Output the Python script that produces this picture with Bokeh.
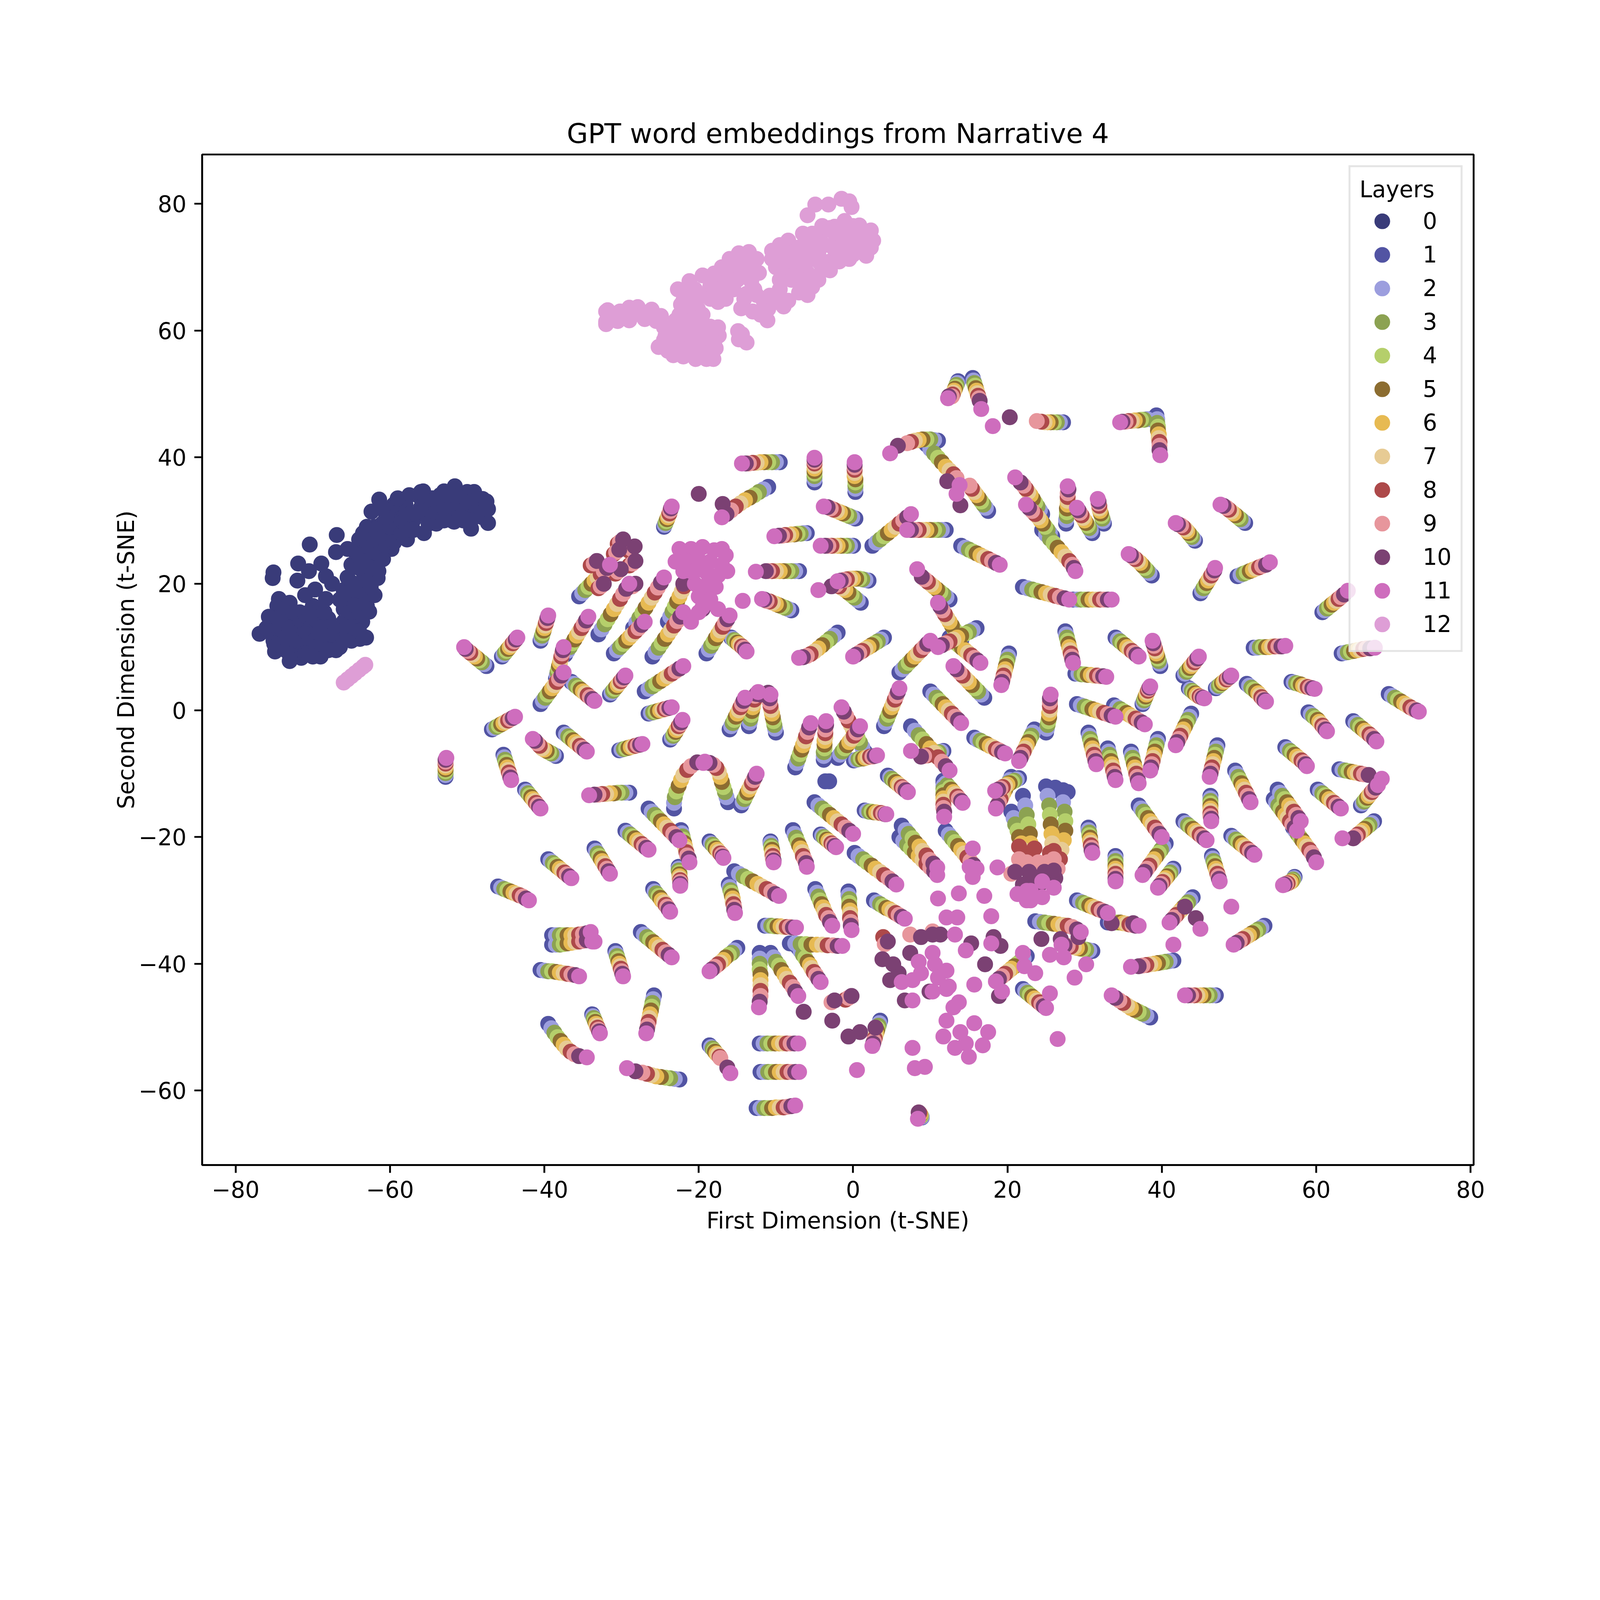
from bokeh.plotting import figure
from bokeh.models import Range1d, FixedTicker
from bokeh.embed import file_html
from bokeh.resources import INLINE

FONT = "DejaVu Sans"

layer_colors = ["#393b79", "#5254a3", "#9c9ede", "#8ca252", "#b5cf6b", "#8c6d31", "#e7ba52",
                "#e7cb94", "#ad494a", "#e7969c", "#7b4173", "#ce6dbd", "#de9ed6"]
layer_labels = [str(i) for i in range(13)]
x_ticks = [-80, -60, -40, -20, 0, 20, 40, 60, 80]
y_ticks = [-60, -40, -20, 0, 20, 40, 60, 80]

# layer 0: the dark cluster on the left
layer0_points = """
-76.9,12.1 -75.1,21.8 -75.2,20.9 -74.4,17.6 -74.6,16.5 -75.7,14.8 -71.9,23.2 -70.4,26.2 -68.9,23.2
-68.3,21.2 -66.9,27.7 -61.4,33.3 -62.4,31.4 -55.7,34.6 -53,34.6 -51.6,35.4 -49.1,34.5 -48,33.4
-47.3,31.8 -47.3,29.6 -49.5,28.7 -51.7,29.8 -55.6,28 -57.8,27 -59.8,25.5 -60.9,23.9 -61.6,20.9
-62,18.2 -62.7,15.6 -63.6,14 -63.1,11.5 -63.9,11.3 -66.5,10.7 -68.9,8.9 -71.5,8.3 -73,7.8 -74.9,9.3
-75.1,11 -71,18.2 -69.7,19.1 -68.3,17.6 -71.7,15.5 -73.9,15 -65.6,12.1
-74,12 -73,11 -72,12.5 -71,10.5 -70,12 -69,11 -68,12.5 -67,11 -73.5,13.5 -72.5,10 -71.5,13.5
-70.5,9.5 -69.5,13 -68.5,10 -67.5,13.5 -66.5,12.5 -72,14.5 -70,14.5 -68,14.5 -66,14 -74,10
-69,8.5 -67,9.5 -65,11 -64.5,13
-66,16 -65,17 -66,19 -64.5,18.5 -65.5,21 -64,20 -63.5,22 -65,23 -64,24.5 -62.5,24 -63,26
-61.5,26 -62,27.5 -60.5,28 -64.5,15 -63,16.5 -66.5,17.5 -65.5,25.5 -64,27 -63,29 -61,29.5
-60,27 -59,29.5
-59,31 -58,32.5 -57,30 -56,32 -55,30.5 -54,32.5 -53,31 -52,33 -51,31.5 -50,33 -49,31 -48.5,32.5
-56,33.5 -54,29.5 -52,30 -50.5,30 -58,29 -60,31.5 -57.5,34 -53.5,34 -50,34.5 -48,30.5
-70.5,22 -72,20.5 -67.5,20 -69,15.5 -67,25 -73,17 -76,13 -72.5,9 -70,16.5
-75.5,12.5 -74.5,13 -73.5,12 -72.5,11.5 -71.5,11 -70.5,11.5 -69.5,12 -68.5,11.5 -67.5,12 -66.5,11.5
-75,10.5 -73.5,9.5 -71,9 -69.5,10 -68,9.5 -66.5,10 -74.5,14.5 -73,13 -71,12.5 -69,13.5 -67,13
-72.5,15.5 -70.5,15.5 -68.5,15.5 -73,8.8 -70,8.5
-65.5,13.5 -64,12.5 -65,15.5 -63.5,15 -64.5,16.5 -63,18 -65.5,18.5 -64,19 -62.5,19.5 -64.5,20
-63,21 -61.5,22 -64,22.5 -62.5,22.5 -63.5,23.5 -62,25 -64.5,25 -61,24 -62.5,26.5 -60.5,26
-61.5,27.5 -59.5,26.5 -63.5,28 -62,29 -60,29 -58.5,28
-58.5,30 -57.5,31 -56.5,31 -55.5,31.5 -54.5,31 -53.5,32 -52.5,32 -51.5,32.5 -50.5,32 -49.5,32.5
-48.5,31.5 -49.5,30 -51,30.5 -53,30 -55,29.5 -57,28.5 -59.5,32.5 -56,34.5 -54.5,33.5 -52.5,34
-51,34 -49,33.5 -47.5,33 -59,33.5 -61,32 -60.5,30.5
"""

# layer 12: the light pink cluster at the top and the small one on the left
layer12_points = """
-66,4.4 -65.5,4.9 -65,5.4 -64.5,5.9 -64,6.4 -63.5,6.9 -63.2,7.2
-32,61.4 -32,63 -31.8,63.2 -30.2,63 -29,63.6 -27.9,63.7 -26.1,63.3 -24.9,62.3 -29,61.6 -32,61
-25.2,57.4 -23.3,56.1 -22,55.9 -20.4,55.5 -19,55.5 -18.1,55.5 -17.4,59.2 -18.5,60.6 -21.1,61.2
-23,61.6 -24.3,59.2 -22.3,58.6 -20.4,58.3 -20.4,61.8 -21.1,63.6 -22,64.7 -20.1,63.4 -20.7,62.5
-23.5,58 -19,57.5 -21.5,57 -17.8,57.2 -24.5,60.5
-14.8,58.6 -14.4,59.4 -14.9,59.9 -13.8,58.1
-22.7,66.5 -22.3,64.1 -21.2,67.8 -19.5,68.7 -17.4,67.8 -16,71.3 -14.8,72.2 -13.5,72.4 -12.5,71.3
-12.2,69.1 -13.2,67.8 -13.8,65.8 -14.1,65 -12.5,65.6 -11.6,64.7 -11,63.4 -11.1,61.6 -18.5,67
-16,69.5 -15,68 -14.5,70 -17,66.5
-10.5,72.6 -10.5,71.3 -9.1,70.9 -8.4,74.2 -8.4,69.6 -8.4,64.7 -6.8,67.2 -5.3,66.9 -5.9,69.1
-5.9,65.6 -7.1,73.1 -6.5,75.3 -5.3,75.3 -5.3,71.3 -2.4,76.4 -1.1,77.3 0.8,76.6 2.3,75.8 2.6,74.2
2.3,73.1 1.1,72.4 -0.5,71.3 -1.8,70.9 -3,70.9 -4.3,70.7 -3.7,73.5 -2.1,74.7 -0.2,73.5 -3.7,75.8
-3,76.2 1.7,71.8 -7.5,70.5 -9.5,68 -7,71.5 0.5,75 -1,74.5 -4.5,74.5 -6,72.5
-5.9,78.2 -4.9,79.9 -3.2,79.9 -1.5,80.8 -0.5,80.4 -0.2,79.5
-31,62.2 -30,62 -28.5,62.5 -27.5,62.8 -26.5,62.5 -25.5,61.5 -30.5,61.5 -27,61.8
-24.5,58.5 -23.5,59.5 -22.5,60 -21.5,59.5 -20.5,60 -19.5,59.5 -18.5,59 -19.5,61 -21.5,60.5 -23,57
-21,56.5 -19.5,56.5 -18,58 -24,56.8 -22.5,62.5 -19.5,62.5 -17.5,60.5
-21.5,65.5 -20.5,66.5 -19.5,65.5 -18.5,65 -17.5,64.5 -16.5,65 -15.5,66.5 -16.5,67.5 -18,69 -17,70
-15.5,70.5 -14,71 -13,70 -13.5,69 -12.8,66.5 -14.5,63.5 -13,63 -12,62.5 -20.5,64.5
-10,70 -9.5,73.5 -9,72 -8,71 -7.5,72.5 -8,68 -7,69 -6.5,70.5 -6,68 -7,66 -4.5,68 -4,69.5 -3,69.5
-2,71.5 -1,72.5 0,72 1,73.5 1.5,75 0,76.5 -1.5,76 -2.5,75.5 -4,76.5 -5,73.5 -6,74.2 -4.5,72
-2.5,73 -1.2,75.5 -9.5,66.5 -10,64.5 -9,63.8 -10.8,65.5
"""

# word trails: the points of layers 1 to 11, in that order
trails_north = [
    "15.5,52.5 15.6,52.1 15.7,51.7 15.8,51.3 15.9,50.9 16,50.5 16.1,50.1 16.2,49.7 16.3,49.3 16.4,48.9 16.6,47.6",
    "13.6,52 13.5,51.7 13.4,51.4 13.3,51.1 13.2,50.8 13.1,50.5 13,50.2 12.9,49.9 12.8,49.6 12.4,49.6 12.3,49.3",
    "27.2,45.5 26.8,45.5 26.4,45.5 26,45.5 25.6,45.5 25.2,45.5 24.8,45.5 24.4,45.6 23.8,45.7 20.3,46.3 18.1,44.9",
    "39.3,46.6 39.4,46 39.4,45.4 39.5,44.8 39.5,44.2 39.6,43.6 39.6,43 39.7,42.4 39.7,41.8 39.7,41.1 39.8,40.3",
    "38.5,46 38.1,46 37.7,45.9 37.3,45.9 36.9,45.8 36.5,45.8 36.1,45.7 35.7,45.7 35.3,45.6 34.9,45.6 34.6,45.5",
    "11,42.6 10.5,42.7 10,42.8 9.5,42.8 9,42.8 8.5,42.7 8,42.6 7.5,42.4 7,42.2 5.8,41.8 4.8,40.6",
    "9.5,42 10,41.3 10.5,40.6 11,39.9 11.5,39.2 12,38.5 12.5,37.9 13,37.3 13.4,36.7 12.2,36.2 13.8,35.6",
    "-9.5,39.2 -10,39.2 -10.5,39.2 -11,39.2 -11.5,39.2 -12,39.2 -12.5,39.1 -13,39.1 -13.5,39 -13.9,39 -14.4,39",
    "-5,36 -5,36.5 -5,37 -5,37.4 -5,37.8 -5,38.2 -5,38.6 -5,39 -5,39.3 -5,39.6 -5,39.9",
    "0.3,34.5 0.3,35 0.3,35.5 0.3,36 0.3,36.5 0.2,37 0.2,37.5 0.2,38 0.2,38.4 0.2,38.8 0.2,39.2",
    "-11,35.3 -11.6,34.9 -12.2,34.5 -12.8,34 -13.4,33.6 -14,33.2 -14.6,32.7 -15.2,32.2 -15.8,31.6 -16.4,31 -17,30.5",
    "-24.5,29 -24.4,29.3 -24.3,29.6 -24.2,29.9 -24.1,30.2 -24,30.5 -23.9,30.8 -23.8,31.1 -23.7,31.5 -23.6,31.9 -23.5,32.2",
    "0.3,30.3 -0.1,30.5 -0.5,30.7 -0.9,30.9 -1.3,31.1 -1.7,31.3 -2.1,31.5 -2.5,31.7 -2.9,31.9 -3.3,32.1 -3.8,32.2",
    "17.5,31.5 17.2,32 16.9,32.5 16.6,33 16.3,33.5 16,34 15.7,34.5 15.4,35 15.1,35.5 13.9,32.4 13.4,34.2",
    "24.5,31 24.2,31.6 23.9,32.2 23.6,32.8 23.3,33.4 23,34 22.7,34.5 22.4,35 22.1,35.5 21.7,36 21,36.8",
    "25.8,27.5 25.5,28 25.2,28.5 24.9,29 24.6,29.5 24.3,30 24,30.5 23.6,31 23.2,31.5 22.8,32 22.4,32.5",
    "27.6,29.5 27.6,30.1 27.7,30.7 27.7,31.3 27.7,31.9 27.8,32.5 27.8,33.1 27.8,33.7 27.8,34.3 27.9,34.9 27.8,35.4",
    "32.5,29.5 32.4,29.9 32.3,30.3 32.2,30.7 32.1,31.1 32,31.5 31.9,31.9 31.9,32.3 31.8,32.7 31.8,33 31.7,33.4",
    "31,28 30.8,28.4 30.6,28.8 30.4,29.2 30.2,29.6 30,30 29.8,30.4 29.6,30.8 29.4,31.2 29.2,31.6 29,32",
    "24.5,28.5 25,27.8 25.5,27.1 26,26.4 26.5,25.7 27,25 27.5,24.3 28,23.6 28.4,23 28.6,22.5 28.8,22",
    "50.8,29.6 50.5,29.9 50.2,30.2 49.9,30.5 49.6,30.8 49.3,31.1 49,31.4 48.7,31.7 48.4,32 48,32.3 47.6,32.5",
    "44.3,26.8 44.1,27.1 43.9,27.4 43.7,27.7 43.5,28 43.3,28.3 43.1,28.6 42.8,28.9 42.5,29.2 42.1,29.4 41.8,29.6",
    "38.7,21.3 38.4,21.7 38.1,22.1 37.8,22.5 37.5,22.9 37.2,23.3 36.9,23.6 36.6,23.9 36.3,24.2 36,24.5 35.7,24.7",
    "45,18.5 45.2,18.9 45.4,19.3 45.6,19.7 45.8,20.1 46,20.5 46.2,20.9 46.4,21.3 46.6,21.7 46.8,22.1 46.9,22.5",
    "49.8,21.2 50.2,21.4 50.6,21.6 51,21.8 51.4,22 51.8,22.2 52.2,22.4 52.6,22.6 53,22.8 53.5,23 54,23.4",
    "60.8,15.5 61.1,15.8 61.4,16.1 61.7,16.4 62,16.7 62.3,17 62.6,17.3 62.9,17.6 63.2,17.9 63.6,18.3 64.1,18.9",
    "-6,28 -6.4,28 -6.8,27.9 -7.2,27.9 -7.6,27.8 -8,27.8 -8.4,27.7 -8.8,27.7 -9.2,27.6 -9.6,27.6 -10.2,27.5",
    "0,26 -0.4,26 -0.8,26 -1.2,26 -1.6,26 -2,26 -2.4,26 -2.8,26 -3.2,26 -3.6,26 -4.2,26",
    "12,28.5 11.5,28.5 11,28.5 10.5,28.5 10,28.5 9.5,28.5 9,28.5 8.5,28.5 8,28.5 7.5,28.5 7,28.5",
    "2.5,26 3,26.5 3.5,27 4,27.5 4.5,28 5,28.5 5.5,29 6,29.5 6.5,30 7,30.5 7.5,31",
    "14,26 14.5,25.7 15,25.4 15.5,25.1 16,24.8 16.5,24.5 17,24.2 17.5,23.9 18,23.6 18.5,23.3 19,23",
    "22,19.5 22.6,19.3 23.2,19.1 23.8,18.9 24.4,18.7 25,18.5 25.6,18.3 26.2,18.1 26.8,17.9 27.4,17.7 28,17.5",
    "28.5,17.5 29,17.5 29.5,17.5 30,17.5 30.5,17.5 31,17.5 31.5,17.5 32,17.5 32.5,17.5 33,17.5 33.5,17.5",
]

trails_west = [
    "-47.5,7 -47.8,7.3 -48.1,7.6 -48.4,7.9 -48.7,8.2 -49,8.5 -49.3,8.8 -49.6,9.1 -49.9,9.4 -50.2,9.7 -50.4,10",
    "-45.5,8.5 -45.3,8.8 -45.1,9.1 -44.9,9.4 -44.7,9.7 -44.5,10 -44.3,10.3 -44.1,10.6 -43.9,10.9 -43.7,11.2 -43.5,11.5",
    "-46.8,-3 -46.5,-2.8 -46.2,-2.6 -45.9,-2.4 -45.6,-2.2 -45.3,-2 -45,-1.8 -44.7,-1.6 -44.4,-1.4 -44.1,-1.2 -43.8,-1",
    "-40.5,11 -40.4,11.4 -40.3,11.8 -40.2,12.2 -40.1,12.6 -40,13 -39.9,13.4 -39.8,13.8 -39.7,14.2 -39.6,14.6 -39.5,15",
    "-40.5,1 -40.2,1.5 -39.9,2 -39.6,2.5 -39.3,3 -39,3.5 -38.7,4 -38.4,4.5 -38.1,5 -37.8,5.5 -37.5,6",
    "-37.3,8.8 -37,9.4 -36.7,10 -36.4,10.6 -36.1,11.2 -35.8,11.8 -35.5,12.4 -35.2,13 -34.9,13.6 -34.6,14.2 -34.3,14.8",
    "-36.5,4.5 -36.2,4.2 -35.9,3.9 -35.6,3.6 -35.3,3.3 -35,3 -34.7,2.7 -34.4,2.4 -34.1,2.1 -33.8,1.8 -33.5,1.5",
    "-37.5,-3.5 -37.2,-3.8 -36.9,-4.1 -36.6,-4.4 -36.3,-4.7 -36,-5 -35.7,-5.3 -35.4,-5.6 -35.1,-5.9 -34.8,-6.2 -34.5,-6.5",
    "-38.5,-7.2 -38.8,-7 -39.1,-6.8 -39.4,-6.6 -39.7,-6.4 -40,-6.2 -40.3,-6 -40.6,-5.6 -40.9,-5.2 -41.2,-4.8 -41.5,-4.5",
    "-52.8,-10.5 -52.8,-10.2 -52.8,-9.9 -52.8,-9.6 -52.8,-9.3 -52.8,-9 -52.8,-8.7 -52.8,-8.4 -52.8,-8.1 -52.8,-7.8 -52.7,-7.5",
    "-45.3,-7 -45.2,-7.4 -45.1,-7.8 -45,-8.2 -44.9,-8.6 -44.8,-9 -44.7,-9.4 -44.6,-9.8 -44.5,-10.2 -44.4,-10.6 -44.3,-11",
    "-42.5,-12.5 -42.3,-12.8 -42.1,-13.1 -41.9,-13.4 -41.7,-13.7 -41.5,-14 -41.3,-14.3 -41.1,-14.6 -40.9,-14.9 -40.7,-15.2 -40.5,-15.5",
    "-29,-13 -29.5,-13 -30,-13 -30.5,-13 -31,-13.1 -31.5,-13.1 -32,-13.2 -32.5,-13.2 -33,-13.3 -33.5,-13.3 -34.2,-13.4",
    "-29.5,-19 -29.2,-19.3 -28.9,-19.6 -28.6,-19.9 -28.3,-20.2 -28,-20.5 -27.7,-20.8 -27.4,-21.1 -27.1,-21.4 -26.8,-21.7 -26.5,-22",
    "-26.5,-15.5 -26.1,-16 -25.7,-16.5 -25.3,-17 -24.9,-17.5 -24.5,-18 -24.1,-18.5 -23.7,-19 -23.3,-19.5 -22.9,-20 -22.5,-20.5",
    "-30.3,-6.3 -30,-6.2 -29.7,-6.1 -29.4,-6 -29.1,-5.9 -28.8,-5.8 -28.5,-5.7 -28.2,-5.6 -27.9,-5.5 -27.6,-5.4 -27.3,-5.3",
    "-26.5,-0.5 -26.2,-0.4 -25.9,-0.3 -25.6,-0.2 -25.3,-0.1 -25,0 -24.7,0.1 -24.4,0.2 -24.1,0.3 -23.8,0.4 -23.5,0.5",
    "-35.5,18 -35.1,18.5 -34.7,19 -34.3,19.5 -33.9,20 -33.5,20.5 -33.1,21 -32.7,21.5 -32.3,22 -31.9,22.5 -31.5,23",
    "-33,12 -32.6,12.8 -32.2,13.6 -31.8,14.4 -31.4,15.2 -31,16 -30.6,16.8 -30.2,17.6 -29.8,18.4 -29.4,19.2 -29,20",
    "-28.5,13 -28.1,13.8 -27.7,14.6 -27.3,15.4 -26.9,16.2 -26.5,17 -26.1,17.8 -25.7,18.6 -25.3,19.4 -24.9,20.2 -24.5,21",
    "-24,14 -23.7,14.8 -23.4,15.6 -23.1,16.4 -22.8,17.2 -22.5,18 -22.2,18.8 -21.9,19.6 -21.6,20.4 -21.3,21.2 -21,22",
    "-38.5,5 -38.4,5.5 -38.3,6 -38.2,6.5 -38.1,7 -38,7.5 -37.9,8 -37.8,8.5 -37.7,9 -37.6,9.5 -37.5,10",
    "-19,9 -18.7,9.6 -18.4,10.2 -18.1,10.8 -17.8,11.4 -17.5,12 -17.2,12.6 -16.9,13.2 -16.6,13.8 -16.3,14.4 -16,15",
    "-27,3 -26.5,3.4 -26,3.8 -25.5,4.2 -25,4.6 -24.5,5 -24,5.4 -23.5,5.8 -23,6.2 -22.5,6.6 -22,7",
    "-26,8.5 -25.6,9.2 -25.2,9.9 -24.8,10.6 -24.4,11.3 -24,12 -23.6,12.7 -23.2,13.4 -22.8,14.1 -22.4,14.8 -22,15.5",
    "-31,9 -30.6,9.5 -30.2,10 -29.8,10.5 -29.4,11 -29,11.5 -28.6,12 -28.2,12.5 -27.8,13 -27.4,13.5 -27,14",
    "-31.5,2.5 -31.3,2.8 -31.1,3.1 -30.9,3.4 -30.7,3.7 -30.5,4 -30.3,4.3 -30.1,4.6 -29.9,4.9 -29.7,5.2 -29.5,5.5",
]

trails_center = [
    "-7,22 -7.5,22 -8,22 -8.5,22 -9,22 -9.5,22 -10,22 -10.5,22 -11,22 -11.3,22 -12.6,21.9",
    "-8,15.8 -8.4,16 -8.8,16.2 -9.2,16.4 -9.6,16.6 -10,16.8 -10.4,17 -10.8,17.2 -11.2,17.3 -11.5,17.5 -11.8,17.6",
    "-15.8,11.5 -15.6,11.3 -15.4,11.1 -15.2,10.9 -15,10.7 -14.8,10.5 -14.6,10.3 -14.4,10.1 -14.2,9.9 -14,9.6 -13.8,9.3",
    "-23.2,-15.5 -23.2,-14.6 -23.1,-13.7 -22.9,-12.8 -22.6,-11.9 -22.3,-11 -22,-10.2 -21.5,-9.4 -21,-8.8 -20.2,-8.2 -19.4,-8.3",
    "-16.2,-14.5 -16.4,-13.7 -16.6,-12.9 -16.8,-12.1 -17,-11.3 -17.2,-10.5 -17.4,-9.7 -17.7,-9.1 -18.1,-8.6 -18.6,-8.3 -19.2,-8.1",
    "-14.5,-15 -14.3,-14.5 -14.1,-14 -13.9,-13.5 -13.7,-13 -13.5,-12.5 -13.3,-12 -13.1,-11.5 -12.9,-11 -12.7,-10.5 -12.5,-10",
    "-13.5,-2.5 -13.4,-1.9 -13.3,-1.3 -13.2,-0.7 -13.1,-0.1 -13,0.5 -12.9,1.1 -12.8,1.7 -12.7,2.3 -12.5,2.6 -12.3,2.9",
    "-10,-3.5 -10.1,-2.9 -10.2,-2.3 -10.3,-1.7 -10.4,-1.1 -10.5,-0.5 -10.6,0.1 -10.7,0.7 -10.8,1.3 -10.8,1.9 -10.7,2.5",
    "-16,-3 -15.8,-2.5 -15.6,-2 -15.4,-1.5 -15.2,-1 -15,-0.5 -14.8,0 -14.6,0.5 -14.4,1 -14.2,1.5 -14,2",
    "-7.5,-9 -7.3,-8.3 -7.1,-7.6 -6.9,-6.9 -6.7,-6.2 -6.5,-5.5 -6.3,-4.8 -6.1,-4.1 -5.9,-3.4 -5.7,-2.7 -5.5,-2",
    "1.5,-6.5 1.2,-5.8 0.9,-5.1 0.6,-4.4 0.3,-3.7 0,-3 -0.3,-2.3 -0.6,-1.6 -0.9,-0.9 -1.2,-0.2 -1.5,0.5",
    "4,-2.5 4.2,-1.9 4.4,-1.3 4.6,-0.7 4.8,-0.1 5,0.5 5.2,1.1 5.4,1.7 5.6,2.3 5.8,2.9 6,3.5",
    "7.5,-2.5 8,-3.2 8.5,-3.9 9,-4.6 9.5,-5.3 10,-6 10.5,-6.7 11,-7.4 11.5,-8.1 12,-8.8 12.5,-9.5",
    "10,3 10.4,2.5 10.8,2 11.2,1.5 11.6,1 12,0.5 12.4,0 12.8,-0.5 13.2,-1 13.6,-1.5 14,-2",
    "6,6 6.4,6.5 6.8,7 7.2,7.5 7.6,8 8,8.5 8.4,9 8.8,9.5 9.2,10 9.6,10.5 10,11",
    "4,11.5 3.6,11.2 3.2,10.9 2.8,10.6 2.4,10.3 2,10 1.6,9.7 1.2,9.4 0.8,9.1 0.4,8.8 0,8.5",
    "-2,12.3 -2.5,11.8 -3,11.3 -3.5,10.8 -4,10.3 -4.5,9.8 -5,9.3 -5.5,8.9 -6,8.6 -6.5,8.4 -7,8.3",
    "1,17 0.6,17.4 0.2,17.8 -0.2,18.2 -0.6,18.6 -1,19 -1.4,19.3 -1.8,19.6 -2.2,19.8 -2.8,19.6 -4.5,19",
    "2,20.5 1.6,20.6 1.2,20.7 0.8,20.8 0.4,20.8 0,20.8 -0.4,20.8 -0.8,20.7 -1.2,20.6 -1.6,20.5 -2,20.4",
    "12.5,17.5 12.1,17.9 11.7,18.3 11.3,18.7 10.9,19.1 10.5,19.5 10.1,19.9 9.7,20.3 9.3,20.7 8.9,21.1 8.3,22.3",
    "14,11 13.7,11.6 13.4,12.2 13.1,12.8 12.8,13.4 12.5,14 12.2,14.6 11.9,15.2 11.6,15.8 11.3,16.4 11,17",
    "16,13 15.5,12.7 15,12.4 14.5,12.1 14,11.8 13.5,11.5 13,11.2 12.5,10.9 12,10.6 11.5,10.3 11,10",
    "17,2 16.6,2.5 16.2,3 15.8,3.5 15.4,4 15,4.5 14.6,5 14.2,5.5 13.8,6 13.4,6.5 13,7",
    "-23.7,-4.6 -23.5,-4.3 -23.3,-4 -23.2,-3.7 -23,-3.4 -22.9,-3.1 -22.7,-2.8 -22.6,-2.5 -22.4,-2.2 -22.3,-1.9 -22.1,-1.5",
    "-3.8,-7.8 -3.8,-7.2 -3.8,-6.6 -3.7,-6 -3.7,-5.4 -3.7,-4.8 -3.6,-4.2 -3.6,-3.6 -3.6,-3 -3.5,-2.3 -3.5,-1.7",
    "-2,-7.5 -1.7,-7 -1.4,-6.5 -1.1,-6 -0.8,-5.5 -0.5,-5 -0.2,-4.5 0.1,-4 0.4,-3.5 0.6,-3 0.9,-2.5",
    "0.1,-7.9 0.4,-7.8 0.7,-7.7 1,-7.6 1.3,-7.6 1.6,-7.5 1.9,-7.4 2.2,-7.3 2.5,-7.3 2.8,-7.2 3.1,-7.1",
    "11.7,-6.4 11.4,-6.5 11.1,-6.6 10.8,-6.7 10.5,-6.8 10.2,-6.9 9.9,-7 9.6,-7.1 9.2,-7.2 8.8,-7.3 7.5,-6.4",
    "11.7,-11.1 12,-11.5 12.2,-11.8 12.5,-12.2 12.7,-12.5 13,-12.9 13.2,-13.2 13.5,-13.6 13.7,-13.9 14,-14.3 14.2,-14.6",
    "11.7,-11.4 11.7,-11.9 11.7,-12.4 11.7,-12.9 11.7,-13.4 11.7,-13.9 11.7,-14.4 11.7,-14.9 11.7,-15.4 11.8,-16 11.8,-16.8",
    "4.5,-10.3 4.8,-10.6 5,-10.8 5.3,-11.1 5.5,-11.3 5.8,-11.6 6,-11.8 6.3,-12.1 6.5,-12.3 6.8,-12.6 7.1,-12.9",
    "6.3,-18.2 6.8,-18.9 7.2,-19.5 7.7,-20.2 8.1,-20.9 8.6,-21.5 9,-22.2 9.5,-22.9 9.9,-23.6 10.4,-24.2 10.9,-24.8",
    "6,-20 6.5,-20.6 7,-21.2 7.5,-21.8 8,-22.4 8.5,-23 9,-23.6 9.5,-24.2 10,-24.8 10.5,-25.4 10.9,-26",
    "0.2,-22.5 0.7,-23 1.3,-23.5 1.8,-24 2.4,-24.5 2.9,-25 3.5,-25.5 4,-26 4.6,-26.5 5.1,-27 5.6,-27.5",
    "-7.8,-18.9 -7.6,-19.5 -7.4,-20.1 -7.2,-20.7 -7,-21.3 -6.8,-21.8 -6.6,-22.4 -6.5,-23 -6.3,-23.5 -6.1,-24.1 -6,-24.7",
    "-5,-14.5 -4.5,-15 -4,-15.5 -3.5,-16 -3,-16.5 -2.5,-17 -2,-17.5 -1.5,-18 -1,-18.5 -0.5,-19 0,-19.5",
    "1.5,-15.8 1.8,-15.9 2.1,-16 2.4,-16 2.7,-16.1 3,-16.1 3.3,-16.2 3.6,-16.2 3.9,-16.3 4.2,-16.4 4.3,-16.4",
    "-4.2,-19.6 -4,-19.8 -3.8,-20 -3.6,-20.2 -3.4,-20.4 -3.2,-20.6 -3,-20.8 -2.8,-21 -2.6,-21.2 -2.4,-21.4 -2.2,-21.6",
    "-18.6,-20.7 -18.4,-21 -18.2,-21.2 -18,-21.5 -17.8,-21.8 -17.6,-22 -17.4,-22.3 -17.2,-22.6 -17,-22.8 -16.9,-23.1 -16.8,-23.3",
    "-22.3,-18.9 -22.2,-19.4 -22.1,-19.9 -22,-20.4 -21.9,-20.9 -21.8,-21.4 -21.7,-21.9 -21.6,-22.4 -21.5,-22.9 -21.3,-23.4 -21.2,-24",
    "-10.7,-20.7 -10.7,-21 -10.6,-21.4 -10.6,-21.7 -10.5,-22 -10.5,-22.4 -10.5,-22.7 -10.4,-23 -10.4,-23.4 -10.3,-23.7 -10.3,-24",
    "-15.4,-25.4 -14.8,-25.8 -14.2,-26.2 -13.6,-26.6 -13,-27 -12.4,-27.4 -11.8,-27.8 -11.2,-28.2 -10.6,-28.6 -10.1,-29 -9.6,-29.3",
    "-16.1,-27.5 -16,-27.9 -15.9,-28.4 -15.8,-28.8 -15.7,-29.3 -15.6,-29.7 -15.6,-30.2 -15.5,-30.6 -15.4,-31.1 -15.4,-31.5 -15.3,-32",
    "-22.6,-24.7 -22.6,-25 -22.6,-25.3 -22.5,-25.6 -22.5,-25.9 -22.5,-26.2 -22.5,-26.5 -22.4,-26.8 -22.4,-27.1 -22.4,-27.4 -22.4,-27.7",
    "-25.9,-28.2 -25.7,-28.6 -25.5,-28.9 -25.2,-29.3 -25,-29.6 -24.8,-30 -24.5,-30.3 -24.3,-30.7 -24.1,-31 -23.9,-31.4 -23.7,-31.8",
    "-4.9,-28.2 -4.7,-28.8 -4.5,-29.4 -4.3,-30 -4.1,-30.6 -3.9,-31.1 -3.7,-31.7 -3.5,-32.3 -3.2,-32.8 -3,-33.4 -2.7,-34",
    "-0.6,-28.6 -0.6,-29.2 -0.5,-29.8 -0.5,-30.4 -0.5,-31 -0.4,-31.6 -0.4,-32.2 -0.4,-32.8 -0.3,-33.4 -0.3,-34 -0.2,-34.7",
    "2.7,-30 3.1,-30.3 3.5,-30.6 3.9,-30.9 4.3,-31.2 4.7,-31.4 5.1,-31.7 5.5,-32 5.9,-32.3 6.3,-32.6 6.7,-32.9",
    "12,-19 12.4,-19.6 12.8,-20.2 13.2,-20.8 13.6,-21.4 14,-22 14.4,-22.6 14.8,-23.2 15.2,-23.8 15.6,-24.4 16,-25",
]

trails_east = [
    "63.3,9 63.7,9.1 64.1,9.2 64.5,9.3 64.9,9.4 65.3,9.5 65.7,9.6 66.1,9.7 66.5,9.8 67,9.8 67.6,9.9",
    "51.9,9.9 52.3,9.9 52.7,10 53.1,10 53.5,10 53.9,10 54.3,10.1 54.7,10.1 55.1,10.1 55.5,10.1 56,10.2",
    "56.8,4.5 57.1,4.4 57.4,4.3 57.7,4.2 58,4.1 58.3,3.9 58.6,3.8 58.9,3.7 59.2,3.6 59.5,3.5 59.8,3.4",
    "51,4.2 51.3,3.9 51.6,3.6 51.9,3.3 52.2,3 52.5,2.7 52.7,2.4 52.9,2.1 53.1,1.8 53.3,1.6 53.5,1.4",
    "69.4,2.6 69.8,2.3 70.2,2 70.6,1.7 71,1.4 71.4,1.1 71.8,0.8 72.2,0.5 72.6,0.2 73,0 73.3,-0.2",
    "64.8,-1.7 65.1,-2 65.4,-2.3 65.7,-2.6 66,-2.9 66.3,-3.2 66.6,-3.5 66.9,-3.8 67.2,-4.1 67.5,-4.5 67.8,-4.9",
    "59,-0.3 59.3,-0.6 59.6,-0.9 59.9,-1.2 60.2,-1.5 60.4,-1.8 60.6,-2.1 60.8,-2.4 61,-2.7 61.2,-3 61.4,-3.3",
    "56,-5.8 56.3,-6.1 56.6,-6.4 56.9,-6.7 57.2,-7 57.5,-7.3 57.8,-7.6 58.1,-7.9 58.4,-8.2 58.6,-8.5 58.8,-8.8",
    "63,-9.3 63.4,-9.4 63.8,-9.5 64.2,-9.6 64.6,-9.7 65,-9.8 65.4,-9.9 65.8,-10 66.2,-10.1 66.8,-10.2 68.5,-10.8",
    "65.8,-15 66,-14.7 66.2,-14.4 66.4,-14.1 66.6,-13.8 66.8,-13.5 67,-13.2 67.2,-12.9 67.4,-12.6 67.7,-12.2 68,-11.8",
    "60.2,-12.5 60.5,-12.8 60.8,-13.1 61.1,-13.4 61.4,-13.7 61.7,-14 62,-14.3 62.3,-14.6 62.6,-14.9 62.9,-15.2 63.2,-15.5",
    "55,-12.5 55.3,-13 55.6,-13.5 55.9,-14 56.2,-14.5 56.5,-15 56.8,-15.5 57.1,-16 57.4,-16.5 57.7,-17 58,-17.5",
    "54.5,-14 54.8,-14.5 55.1,-15 55.4,-15.5 55.7,-16 56,-16.5 56.3,-17 56.6,-17.5 56.9,-18 57.2,-18.5 57.5,-19",
    "57,-18.5 57.3,-19 57.6,-19.5 57.9,-20 58.2,-20.5 58.5,-21 58.8,-21.5 59.1,-22 59.4,-22.5 59.7,-23.2 60,-24",
    "67.5,-17.5 67.2,-17.8 66.9,-18.1 66.6,-18.4 66.3,-18.7 66,-19 65.7,-19.3 65.4,-19.6 65.1,-19.9 64.8,-20.2 63.4,-20.2",
    "57.2,-26.3 57.1,-26.5 57,-26.7 56.9,-26.9 56.8,-27 56.7,-27.1 56.5,-27.2 56.3,-27.3 56.1,-27.4 55.9,-27.5 55.7,-27.6",
    "49,-19.8 49.3,-20.1 49.6,-20.4 49.9,-20.7 50.2,-21 50.5,-21.3 50.8,-21.6 51.1,-21.9 51.4,-22.2 51.7,-22.5 52,-22.8",
    "42.8,-17.5 43.1,-17.8 43.4,-18.1 43.7,-18.4 44,-18.7 44.3,-19 44.6,-19.3 44.9,-19.6 45.2,-19.9 45.5,-20.2 45.8,-20.5",
    "46.3,-13.5 46.3,-13.9 46.3,-14.3 46.3,-14.7 46.3,-15.1 46.3,-15.5 46.3,-15.9 46.3,-16.3 46.3,-16.7 46.4,-17.1 46.4,-17.5",
    "49.5,-9.5 49.7,-10 49.9,-10.5 50.1,-11 50.3,-11.5 50.5,-12 50.7,-12.5 50.9,-13 51.1,-13.5 51.3,-14 51.5,-14.5",
    "47.2,-5.5 47.1,-6 47,-6.5 46.9,-7 46.8,-7.5 46.7,-8 46.6,-8.5 46.5,-9 46.4,-9.5 46.3,-10 46.2,-10.5",
    "43.8,-0.5 43.6,-1 43.4,-1.5 43.2,-2 43,-2.5 42.8,-3 42.6,-3.5 42.4,-4 42.2,-4.5 42,-5 41.8,-5.5",
    "43.5,3.5 43.7,3.3 43.9,3.1 44.1,2.9 44.3,2.7 44.5,2.5 44.7,2.3 44.9,2.2 45.1,2.1 45.3,2 45.5,1.9",
    "47,3.5 47.2,3.7 47.4,3.9 47.6,4.1 47.8,4.3 48,4.5 48.2,4.7 48.4,4.9 48.6,5.1 48.8,5.3 49,5.5",
    "42.8,5.5 43,5.8 43.2,6.1 43.4,6.4 43.6,6.7 43.8,7 44,7.3 44.2,7.6 44.4,7.9 44.6,8.2 44.8,8.5",
    "39.8,7 39.7,7.4 39.6,7.8 39.5,8.2 39.4,8.6 39.3,9 39.2,9.4 39.1,9.8 39,10.2 38.9,10.6 38.8,11",
    "37.5,1 37.6,1.3 37.7,1.6 37.8,1.9 37.9,2.2 38,2.5 38.1,2.8 38.2,3.1 38.3,3.4 38.4,3.6 38.5,3.8",
    "28.8,5.8 29.2,5.8 29.6,5.7 30,5.7 30.4,5.6 30.8,5.6 31.2,5.5 31.6,5.5 32,5.4 32.4,5.4 32.8,5.3",
    "25,-3.5 25.1,-2.9 25.2,-2.3 25.3,-1.7 25.4,-1.1 25.4,-0.5 25.5,0.1 25.5,0.7 25.5,1.3 25.5,1.9 25.6,2.5",
    "20.2,9 20.1,8.5 20,8 19.9,7.5 19.8,7 19.7,6.5 19.6,6 19.5,5.5 19.4,5 19.3,4.5 19.2,4",
    "12.5,11.5 12.9,11.1 13.3,10.7 13.7,10.3 14.1,9.9 14.5,9.5 14.9,9.1 15.3,8.7 15.7,8.3 16.1,7.9 16.5,7.5",
    "27.5,12.5 27.6,12 27.7,11.5 27.8,11 27.9,10.5 28,10 28.1,9.5 28.2,9 28.3,8.5 28.4,8 28.5,7.5",
    "34,11.5 34.3,11.2 34.6,10.9 34.9,10.6 35.2,10.3 35.5,10 35.8,9.7 36.1,9.4 36.4,9.1 36.7,8.8 37,8.5",
    "29,1 29.5,0.8 30,0.6 30.5,0.4 31,0.2 31.5,0 32,-0.2 32.5,-0.4 33,-0.6 33.5,-0.8 34,-1",
    "33.8,0.8 34.2,0.5 34.6,0.2 35,-0.1 35.4,-0.4 35.8,-0.7 36.2,-1 36.6,-1.3 37,-1.6 37.4,-1.9 37.8,-2.2",
    "39.5,-4.5 39.4,-5 39.3,-5.5 39.2,-6 39.1,-6.5 39,-7 38.9,-7.5 38.8,-8 38.7,-8.5 38.6,-9 38.5,-9.5",
    "36,-6.5 36.1,-7 36.2,-7.5 36.3,-8 36.4,-8.5 36.5,-9 36.6,-9.5 36.7,-10 36.8,-10.5 36.9,-11 37,-11.5",
    "33,-6 33.1,-6.5 33.2,-7 33.3,-7.5 33.4,-8 33.5,-8.5 33.6,-9 33.7,-9.5 33.8,-10 33.9,-10.5 34,-11",
    "30.5,-3.5 30.6,-4 30.7,-4.5 30.8,-5 30.9,-5.5 31,-6 31.1,-6.5 31.2,-7 31.3,-7.5 31.4,-8 31.5,-8.5",
    "23.5,-3 23.3,-3.5 23.1,-4 22.9,-4.5 22.7,-5 22.5,-5.5 22.3,-6 22.1,-6.5 21.9,-7 21.7,-7.5 21.5,-8",
    "20.5,-10.5 20.3,-11 20.1,-11.5 19.9,-12 19.7,-12.5 19.5,-13 19.3,-13.5 19.1,-14 18.9,-14.5 18.7,-15 18.5,-15.5",
    "25,-12 25.2,-13.5 25.4,-15 25.5,-16.5 25.6,-18 25.7,-19.5 25.8,-21 25.5,-22.5 25.2,-24 24.8,-25.5 24.5,-27",
    "22,-13.5 22.3,-15 22.5,-16.5 22.7,-18 22.9,-19.5 23,-21 23,-22.5 23,-24 23,-25.5 23,-27 23,-28.5",
    "27,-13 27.2,-14.5 27.4,-16 27.5,-17.5 27.5,-19 27.3,-20.5 27,-22 26.8,-23.5 26.5,-25 26.2,-26.5 26,-28",
    "20.5,-16 20.8,-17 21,-18 21.3,-19 21.5,-20 21.8,-21 22,-22 22.3,-23 22.5,-24 22.8,-25.5 22.5,-30",
    "15.7,-4.3 16.1,-4.6 16.5,-4.8 16.9,-5.1 17.3,-5.3 17.7,-5.6 18.1,-5.8 18.5,-6.1 18.9,-6.3 19.3,-6.6 19.7,-6.8",
    "21.5,-10.7 21.2,-10.9 20.9,-11.1 20.6,-11.3 20.3,-11.5 20,-11.7 19.7,-11.9 19.4,-12.1 19.1,-12.3 18.8,-12.5 18.4,-12.7",
    "23.6,-33.3 24.2,-33.4 24.8,-33.5 25.4,-33.6 26,-33.7 26.6,-33.8 27.2,-33.9 27.8,-34 28.4,-34.2 29,-34.6 29.5,-35",
]

trails_south = [
    "-11.4,-34 -11,-34 -10.6,-34 -10.2,-34.1 -9.8,-34.1 -9.4,-34.1 -9,-34.2 -8.6,-34.2 -8.2,-34.2 -7.8,-34.3 -7.4,-34.3",
    "-8.2,-36.8 -7.5,-36.8 -6.8,-36.9 -6.1,-36.9 -5.4,-37 -4.7,-37 -4,-37 -3.3,-37.1 -2.6,-37.1 -2,-37.2 -1.4,-37.2",
    "-15,-37.5 -15.4,-37.9 -15.7,-38.3 -16.1,-38.6 -16.5,-39 -16.8,-39.4 -17.2,-39.8 -17.5,-40.1 -17.9,-40.5 -18.3,-40.9 -18.6,-41.2",
    "-12.1,-38.3 -12.1,-39.2 -12.1,-40 -12.1,-40.9 -12,-41.7 -12,-42.6 -12,-43.4 -12,-44.3 -12,-45.1 -12.1,-46 -12.2,-46.9",
    "-10.7,-38.3 -10.3,-39 -10,-39.7 -9.6,-40.3 -9.3,-41 -8.9,-41.7 -8.6,-42.4 -8.2,-43 -7.8,-43.7 -7.5,-44.4 -7.1,-45.1",
    "-7.1,-37.5 -6.8,-38 -6.5,-38.6 -6.2,-39.1 -5.9,-39.7 -5.6,-40.2 -5.4,-40.7 -5.1,-41.3 -4.8,-41.8 -4.5,-42.4 -4.2,-42.9",
    "-12.1,-52.6 -11.6,-52.6 -11.1,-52.6 -10.6,-52.6 -10.1,-52.6 -9.6,-52.6 -9.1,-52.6 -8.6,-52.6 -8.1,-52.6 -7.6,-52.6 -7.1,-52.6",
    "-18.6,-52.9 -18.4,-53.2 -18.2,-53.4 -18,-53.7 -17.9,-53.9 -17.7,-54.2 -17.5,-54.4 -17.3,-54.7 -17.2,-54.9 -16.3,-56.4 -15.9,-57.3",
    "-46,-27.8 -45.6,-28 -45.2,-28.2 -44.8,-28.4 -44.4,-28.6 -44,-28.8 -43.6,-29 -43.2,-29.2 -42.8,-29.4 -42.4,-29.7 -42,-30",
    "-39.5,-23.5 -39.2,-23.8 -38.9,-24.1 -38.6,-24.4 -38.3,-24.7 -38,-25 -37.7,-25.3 -37.4,-25.6 -37.1,-25.9 -36.8,-26.2 -36.5,-26.5",
    "-33.5,-21.8 -33.3,-22.2 -33.1,-22.6 -32.9,-23 -32.7,-23.4 -32.5,-23.8 -32.3,-24.2 -32.1,-24.6 -31.9,-25 -31.7,-25.4 -31.5,-25.8",
    "-39,-35.5 -38.5,-35.5 -38,-35.5 -37.5,-35.5 -37,-35.5 -36.5,-35.5 -36,-35.5 -35.5,-35.4 -35,-35.3 -34.5,-35.2 -34,-35",
    "-39,-37 -38.5,-37 -38,-37 -37.5,-36.9 -37,-36.8 -36.5,-36.7 -36,-36.6 -35.5,-36.5 -35,-36.4 -34.5,-36.3 -33.8,-36.5",
    "-40.5,-41 -40,-41.1 -39.5,-41.2 -39,-41.2 -38.5,-41.3 -38,-41.4 -37.5,-41.5 -37,-41.6 -36.5,-41.7 -36,-41.8 -35.5,-42",
    "-30.8,-38 -30.7,-38.4 -30.6,-38.8 -30.5,-39.2 -30.4,-39.6 -30.3,-40 -30.2,-40.4 -30.1,-40.8 -30,-41.2 -29.9,-41.6 -29.8,-42",
    "-27.5,-35 -27.1,-35.4 -26.7,-35.8 -26.3,-36.2 -25.9,-36.6 -25.5,-37 -25.1,-37.4 -24.7,-37.8 -24.3,-38.2 -23.9,-38.6 -23.5,-39",
    "-39.5,-49.5 -39.1,-50.2 -38.7,-50.9 -38.3,-51.6 -37.9,-52.2 -37.5,-52.8 -37.1,-53.4 -36.6,-53.9 -36.1,-54.3 -35.5,-54.6 -34.5,-54.8",
    "-33.8,-48 -33.7,-48.3 -33.6,-48.6 -33.5,-48.9 -33.4,-49.2 -33.3,-49.5 -33.2,-49.8 -33.1,-50.1 -33,-50.4 -32.9,-50.7 -32.8,-51",
    "-25.8,-45 -25.9,-45.6 -26,-46.2 -26.1,-46.8 -26.2,-47.4 -26.3,-48 -26.4,-48.6 -26.5,-49.2 -26.6,-49.8 -26.7,-50.4 -26.8,-51",
    "-22.5,-58.3 -23.1,-58.2 -23.7,-58.1 -24.3,-58 -24.9,-57.9 -25.5,-57.8 -26.1,-57.6 -26.7,-57.4 -27.3,-57.2 -28.2,-57 -29.3,-56.5",
    "-12,-57.1 -11.5,-57.1 -11,-57.1 -10.5,-57.1 -10,-57.1 -9.5,-57.1 -9,-57.1 -8.5,-57.1 -8,-57.1 -7.5,-57.1 -7,-57.1",
    "-12.5,-62.8 -12,-62.8 -11.5,-62.8 -11,-62.8 -10.5,-62.8 -10,-62.7 -9.5,-62.7 -9,-62.7 -8.5,-62.6 -8,-62.5 -7.5,-62.4",
    "8.9,-64.3 8.9,-64.2 8.8,-64.1 8.8,-64 8.7,-63.9 8.7,-63.8 8.6,-63.7 8.6,-63.6 8.5,-63.5 8.5,-63.5 8.4,-64.5",
    "3.5,-49 3.4,-49.4 3.3,-49.8 3.2,-50.2 3.1,-50.6 3,-51 2.9,-51.4 2.8,-51.8 2.7,-52.2 2.6,-52.6 2.5,-53",
    "22.5,-38.8 22.1,-39.2 21.7,-39.6 21.3,-40 20.9,-40.4 20.5,-40.8 20.1,-41.2 19.7,-41.6 19.3,-42 18.9,-42.4 18.5,-42.8",
    "22,-44 22.3,-44.3 22.6,-44.6 22.9,-44.9 23.2,-45.2 23.5,-45.5 23.8,-45.8 24.1,-46.1 24.4,-46.4 24.7,-46.7 25,-47",
    "31,-38 30.6,-37.9 30.2,-37.8 29.8,-37.7 29.4,-37.6 29,-37.5 28.6,-37.4 28.2,-37.3 27.8,-37.2 27.4,-37.1 27,-37",
    "29,-30 29.4,-30.2 29.8,-30.4 30.2,-30.6 30.6,-30.8 31,-31 31.4,-31.2 31.8,-31.4 32.2,-31.6 32.6,-31.8 33,-32",
    "33,-33.5 33.4,-33.5 33.8,-33.5 34.2,-33.5 34.6,-33.5 35,-33.6 35.4,-33.7 35.8,-33.8 36.2,-33.9 36.6,-34 37,-34",
    "41.5,-39.5 41,-39.6 40.5,-39.7 40,-39.8 39.5,-39.9 39,-40 38.5,-40.1 38,-40.2 37.5,-40.3 37,-40.4 36,-40.5",
    "38.5,-48.5 38,-48.2 37.5,-47.9 37,-47.6 36.5,-47.3 36,-47 35.5,-46.6 35,-46.2 34.5,-45.8 34,-45.4 33.5,-45",
    "47,-45 46.6,-45 46.2,-45 45.8,-45 45.4,-45 45,-45 44.6,-45 44.2,-45 43.8,-45 43.4,-45 43,-45",
    "53.3,-34 52.9,-34.3 52.5,-34.6 52.1,-34.9 51.7,-35.2 51.3,-35.5 50.9,-35.8 50.5,-36.1 50.1,-36.4 49.7,-36.7 49.3,-37",
    "44,-29.5 43.7,-29.9 43.4,-30.3 43.1,-30.7 42.8,-31.1 42.5,-31.5 42.2,-31.9 41.9,-32.3 41.6,-32.7 41.3,-33.1 41,-33.5",
    "41.5,-25 41.3,-25.3 41.1,-25.6 40.9,-25.9 40.7,-26.2 40.5,-26.5 40.3,-26.8 40.1,-27.1 39.9,-27.4 39.7,-27.7 39.5,-28",
    "46.5,-23 46.6,-23.4 46.7,-23.8 46.8,-24.2 46.9,-24.6 47,-25 47.1,-25.4 47.2,-25.8 47.3,-26.2 47.4,-26.6 47.5,-27",
    "34,-23 34,-23.4 34,-23.8 34,-24.2 34,-24.6 34,-25 34,-25.4 34,-25.8 34,-26.2 34,-26.6 34,-27",
    "30.5,-18.5 30.5,-18.9 30.6,-19.3 30.6,-19.7 30.7,-20.1 30.7,-20.5 30.8,-20.9 30.8,-21.3 30.9,-21.7 30.9,-22.1 31,-22.5",
    "37,-15 37.3,-15.5 37.6,-16 37.9,-16.5 38.2,-17 38.5,-17.5 38.8,-18 39.1,-18.5 39.4,-19 39.7,-19.5 40,-20",
    "40.5,-21 40.2,-21.5 39.9,-22 39.6,-22.5 39.3,-23 39,-23.5 38.7,-24 38.4,-24.5 38.1,-25 37.8,-25.5 37.5,-26",
]

# loose points of single layers
extra_layer1 = "-3.6,-11.2 -3.1,-11.2 25.3,-12.3 26.2,-12.2 27.2,-12.6 27.8,-12.9"

extra_layer8 = """-30.5,26.3 -31,24.7 -29,25.2 -34,22.9 -30.8,21.6 -29,22.9 -33,19.3 3.9,-35.8 21.5,-21.5
23.5,-21.8 26,-22.2 -1,-45.7"""

extra_layer9 = """-30.2,26.6 -30.7,25 -28.7,25.5 -33.6,23.2 -30.5,21.9 -28.6,23.2 -32.7,19.6 -28.6,19.6
7.4,-35.4 10.3,-34.9 4.1,-36.9 21.5,-23.5 24,-24 26,-23.5 23,-24.8 20.5,-25.8 -0.6,-45.4 -2.8,-46.1"""

extra_layer10 = """-20,34.2 -29.8,27 -30.3,25.4 -28.3,25.9 -33.2,23.6 -30.1,22.3 -28.2,23.6 -32.3,20 -28.2,20
-16.9,32.6 -22,20 -19.5,16 -12,2.5 -11,2.8 4.8,-42.6 5.9,-41.5 5.2,-40.1 7.4,-38.3 8.8,-35.8
10.3,-35.4 11.3,-35.4 4.5,-36.5 3.8,-39.3 6.7,-45.8 9.9,-44.4 15.3,-36.8 18.2,-35.8 19.1,-37.2
18.9,-45.1 17.1,-40.1 29.2,-35.8 26.9,-36.1 24.4,-36.1 21,-25.5 23,-26.5 25,-26 26,-25.3 22,-27.5
24,-27.8 -0.2,-45.1 -2.4,-45.8 -6.4,-47.6 -2.7,-49 -0.6,-51.5 0.9,-50.8 2.9,-50.1 43,-31
44.4,-32.8 36.3,-33.6 33.5,-33.6"""

extra_layer11 = """-22.5,25.5 -21,25.5 -19.5,25.8 -18,25.3 -17,25.5 -16.5,24.5 -23,23.5 -21.5,23.5 -20,23.8
-18.5,23.5 -17,23 -16.3,22 -22,22 -20.5,22 -19,21.8 -17.5,21.3 -20.5,20 -19,19.8 -17.8,19.5
-20,18 -18.5,17.5 -19.5,16.3 -17.5,16 -21,14 -20,15.5 -14.3,17.3 11,-29.7 13.7,-28.9 17,-29.3
17.9,-32.5 12.1,-32.7 13.5,-32.7 15.1,-24.7 15.5,-26.3 18.7,-24.8 15.5,-21.8 13.2,-35.4 14.6,-37.9
10.3,-38.3 8.5,-39.7 10.6,-40.1 12.1,-41.1 8.8,-41.5 11,-42.2 6.3,-42.9 7.7,-42.6 12.4,-43.6
10.3,-44.4 12.1,-44 7.7,-45.8 15.7,-43.3 17.9,-36.8 19.3,-44.4 22,-38.3 22.2,-40.4 23.6,-41.5
25.5,-38.6 27.3,-39 28.7,-42.2 30.2,-40.1 25.5,-44.7 13.7,-46.1 13,-46.9 12.1,-49 15.7,-49.4
11.7,-51.5 13.9,-50.8 17.5,-50.8 13.2,-53.3 14.6,-52.6 16.8,-52.9 15,-54.7 7.7,-53.3 26.5,-51.9
0.5,-56.8 8,-56.5 9.3,-56.3 21.3,-29 23,-30 24.5,-29.5 22.5,-28.5 -33.5,-36.5 49,-31 45,-34.5
41.5,-37"""


def pairs(text):
    nums = [float(v) for v in text.replace(",", " ").split()]
    return list(zip(nums[0::2], nums[1::2]))


xs = [[] for _ in layer_labels]
ys = [[] for _ in layer_labels]


def add_points(layer, text):
    for x, y in pairs(text):
        xs[layer].append(x)
        ys[layer].append(y)


add_points(0, layer0_points)
for group in (trails_north, trails_west, trails_center, trails_east, trails_south):
    for trail in group:
        for k, (x, y) in enumerate(pairs(trail)):
            xs[k + 1].append(x)
            ys[k + 1].append(y)
add_points(1, extra_layer1)
add_points(8, extra_layer8)
add_points(9, extra_layer9)
add_points(10, extra_layer10)
add_points(11, extra_layer11)
add_points(12, layer12_points)

p = figure(width=4184, height=3344, output_backend="svg", toolbar_location=None,
           x_range=Range1d(-84.34, 80.4), y_range=Range1d(-71.8, 87.8),
           min_border_left=517, min_border_right=412, min_border_top=395, min_border_bottom=362,
           title="GPT word embeddings from Narrative 4")

for k, label in enumerate(layer_labels):
    p.scatter(xs[k], ys[k], size=35, fill_color=layer_colors[k], line_color=layer_colors[k],
              line_width=5.8, legend_label=label)

p.title.text_font = FONT
p.title.text_font_size = "70px"
p.title.text_font_style = "normal"
p.title.text_color = "black"
p.title.align = "center"
p.title.standoff = 26

p.xgrid.visible = False
p.ygrid.visible = False
p.outline_line_color = "black"
p.outline_line_width = 4.7
p.outline_line_alpha = 1.0

p.xaxis.axis_label = "First Dimension (t-SNE)"
p.yaxis.axis_label = "Second Dimension (t-SNE)"
p.xaxis.ticker = FixedTicker(ticks=x_ticks)
p.yaxis.ticker = FixedTicker(ticks=y_ticks)
p.xaxis.major_label_overrides = {t: str(t).replace("-", "\u2212") for t in x_ticks}
p.yaxis.major_label_overrides = {t: str(t).replace("-", "\u2212") for t in y_ticks}
for ax in (p.xaxis, p.yaxis):
    ax.axis_label_text_font = FONT
    ax.axis_label_text_font_size = "58px"
    ax.axis_label_text_font_style = "normal"
    ax.axis_label_text_color = "black"
    ax.major_label_text_font = FONT
    ax.major_label_text_font_size = "58px"
    ax.major_label_text_color = "black"
    ax.major_label_standoff = 20
    ax.major_tick_out = 20
    ax.major_tick_in = 0
    ax.major_tick_line_width = 4.7
    ax.major_tick_line_color = "black"
    ax.minor_tick_line_color = None
    ax.axis_line_width = 4.7
    ax.axis_line_color = "black"
p.xaxis.axis_label_standoff = 22
p.yaxis.axis_label_standoff = -5

leg = p.legend[0]
leg.location = "top_right"
leg.margin = 28
leg.padding = 23
leg.spacing = 0
leg.glyph_width = 116
leg.glyph_height = 86
leg.label_height = 86
leg.label_standoff = 46
leg.label_text_font = FONT
leg.label_text_font_size = "58px"
leg.label_text_color = "black"
leg.title = "Layers"
leg.title_text_font = FONT
leg.title_text_font_size = "58px"
leg.title_text_font_style = "normal"
leg.title_text_color = "black"
leg.title_standoff = 4
leg.border_line_color = "#cccccc"
leg.border_line_width = 5
leg.background_fill_alpha = 0.8

open("out.html", "w").write(file_html(p, INLINE))
